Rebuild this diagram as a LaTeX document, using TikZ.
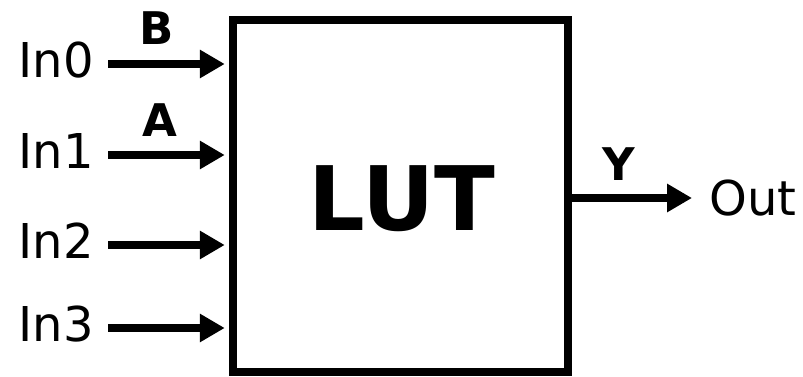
\documentclass[tikz,border=0pt]{standalone}
\usepackage{fontspec}
\setmainfont{DejaVu Sans}
\usetikzlibrary{arrows.meta}

\begin{document}
\begin{tikzpicture}[x=1pt,y=-1pt,line width=8.5pt,
    flecha/.style={-{Triangle[length=25pt,width=27pt]}},
    etiq/.style={font=\fontsize{48}{56}\selectfont,inner sep=0pt},
    senal/.style={font=\fontsize{45}{52}\selectfont\bfseries,inner sep=0pt}]
    \useasboundingbox (0,0) rectangle (803,377);

    % Bloque de la tabla de consulta.
    \node[draw,minimum width=335pt,minimum height=352pt,inner sep=0pt] (lut) at (400.5,196) {};
    \node[font=\fontsize{89}{100}\selectfont\bfseries,inner sep=0pt] (nom) at (402,199) {LUT};

    % Entradas: cada flecha llega al borde izquierdo del bloque.
    \coordinate[label={[etiq,label distance=10pt,yshift=4pt]left:In0}] (e0) at (108,64);
    \coordinate[label={[etiq,label distance=10pt,yshift=4pt]left:In1}] (e1) at (108,155);
    \coordinate[label={[etiq,label distance=10pt,yshift=4pt]left:In2}] (e2) at (108,245);
    \coordinate[label={[etiq,label distance=10pt,yshift=4pt]left:In3}] (e3) at (108,328);
    \draw[flecha,shorten >=4pt] (e0) -- (e0 -| lut.west);
    \draw[flecha,shorten >=4pt] (e1) -- (e1 -| lut.west);
    \draw[flecha,shorten >=4pt] (e2) -- (e2 -| lut.west);
    \draw[flecha,shorten >=4pt] (e3) -- (e3 -| lut.west);

    % Salida.
    \node[etiq,anchor=west] (out) at (705,198) {Out};
    \draw[flecha,shorten >=13pt] (out.west -| lut.east) -- (out.west);

    % Nombres de las senales sobre las flechas.
    \node[senal] (sb) at (157,28) {B};
    \node[senal] (sa) at (160,120) {A};
    \node[senal] (sy) at (619,164) {Y};
\end{tikzpicture}
\end{document}
